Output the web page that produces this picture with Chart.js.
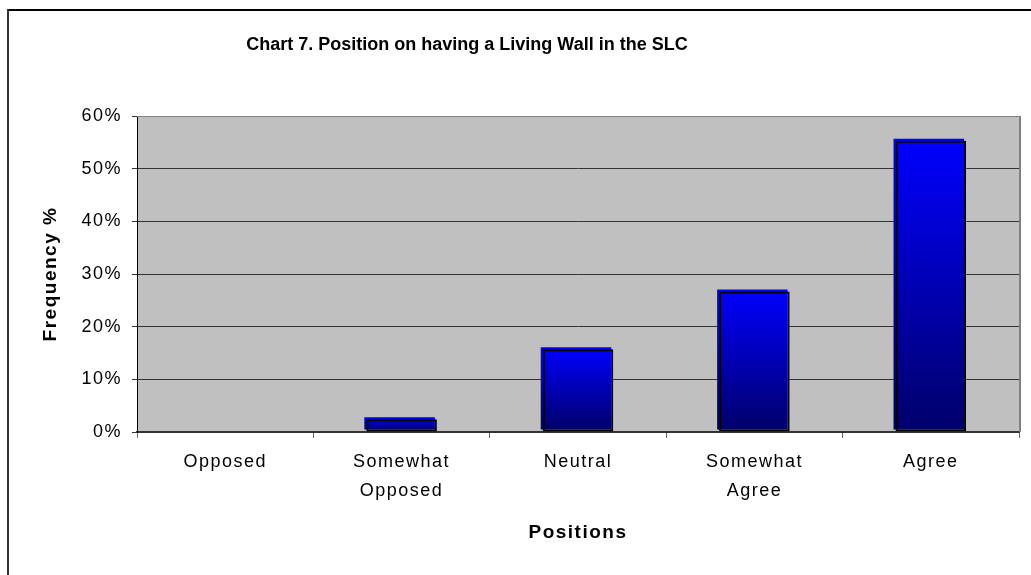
<!DOCTYPE html>
<html>
<head>
<meta charset="utf-8">
<script src="https://cdn.jsdelivr.net/npm/chart.js@4/dist/chart.umd.min.js"></script>
<style>
  html, body { margin: 0; padding: 0; background: #ffffff; }
  #c { display: block; width: 1031px; height: 575px; }
</style>
</head>
<body>
<canvas id="c" width="1031" height="575"></canvas>
<script>
// ---- data ----
const chartTitle = 'Chart 7. Position on having a Living Wall in the SLC';
const categories = [['Opposed'], ['Somewhat', 'Opposed'], ['Neutral'], ['Somewhat', 'Agree'], ['Agree']];
const frequencyPct = [0, 2.4, 15.7, 26.7, 55.3];
const yTicks = [0, 10, 20, 30, 40, 50, 60];
const xAxisTitle = 'Positions';
const yAxisTitle = 'Frequency %';

const FONT = "'Liberation Sans', Arial, sans-serif";

function barGradient(c) {
  const chart = c.chart;
  if (!chart.chartArea || !c.parsed) return '#0000ff';
  const ys = chart.scales.y;
  const top = ys.getPixelForValue(c.parsed.y);
  const bot = ys.getPixelForValue(0);
  if (bot - top < 1) return '#0000ff';
  const g = chart.ctx.createLinearGradient(0, top, 0, bot);
  g.addColorStop(0, '#0000ff');
  g.addColorStop(1, '#00006a');
  return g;
}

const decor = {
  id: 'decor',
  beforeDraw(chart) {
    const { ctx, chartArea: a } = chart;
    ctx.letterSpacing = '1.5px';
    ctx.save();
    ctx.fillStyle = '#c0c0c0';
    ctx.fillRect(a.left, a.top, a.right - a.left, a.bottom - a.top);
    ctx.restore();
  },
  beforeDatasetDraw(chart, args) {
    if (args.index === 0) {
      chart.ctx.save();
      chart.ctx.translate(-2, -2);
    }
  },
  afterDatasetDraw(chart, args) {
    if (args.index === 0) chart.ctx.restore();
  },
  afterDraw(chart) {
    const { ctx, chartArea: a } = chart;
    ctx.save();
    ctx.letterSpacing = '0px';
    // plot area top and right border
    ctx.strokeStyle = '#808080';
    ctx.lineWidth = 1;
    ctx.beginPath();
    ctx.moveTo(a.left, a.top + 0.5);
    ctx.lineTo(a.right, a.top + 0.5);
    ctx.stroke();
    ctx.lineWidth = 2;
    ctx.beginPath();
    ctx.moveTo(a.right + 1, a.top);
    ctx.lineTo(a.right + 1, a.bottom);
    ctx.stroke();
    // outer chart border
    ctx.strokeStyle = '#000000';
    ctx.lineWidth = 2;
    ctx.beginPath();
    ctx.moveTo(7, 10);
    ctx.lineTo(1031, 10);
    ctx.stroke();
    ctx.strokeStyle = '#333333';
    ctx.beginPath();
    ctx.moveTo(8, 9);
    ctx.lineTo(8, 575);
    ctx.stroke();
    // title
    ctx.fillStyle = '#000000';
    ctx.font = 'bold 18px ' + FONT;
    ctx.textAlign = 'center';
    ctx.textBaseline = 'middle';
    ctx.fillText(chartTitle, 467, 45);
    ctx.restore();
  }
};

new Chart(document.getElementById('c'), {
  type: 'bar',
  data: {
    labels: categories,
    datasets: [
      {
        label: 'fill',
        data: frequencyPct,
        backgroundColor: barGradient,
        borderWidth: 0,
        barPercentage: 0.4,
        categoryPercentage: 1.0,
        grouped: false,
        order: 1
      },
      {
        label: 'outline',
        data: frequencyPct,
        backgroundColor: 'rgba(0,0,0,0)',
        borderColor: '#000000',
        borderWidth: 2,
        borderSkipped: false,
        barPercentage: 0.4,
        categoryPercentage: 1.0,
        grouped: false,
        order: 0
      }
    ]
  },
  options: {
    responsive: false,
    animation: false,
    devicePixelRatio: 1,
    layout: { padding: { top: 116, right: 12, left: 0, bottom: 0 } },
    plugins: {
      legend: { display: false },
      tooltip: { enabled: false },
      title: { display: false }
    },
    scales: {
      x: {
        offset: true,
        afterFit(s) { s.height = 143; },
        grid: {
          display: true,
          offset: true,
          drawOnChartArea: false,
          drawTicks: true,
          tickLength: 6,
          color: '#666666'
        },
        border: { display: true, color: '#333333', width: 2 },
        ticks: {
          color: '#000000',
          font: { family: FONT, size: 18, lineHeight: 1.63 },
          padding: 9,
          maxRotation: 0,
          autoSkip: false
        },
        title: {
          display: true,
          text: xAxisTitle,
          color: '#000000',
          font: { family: FONT, size: 19, weight: 'bold', lineHeight: 1.2 },
          padding: { top: 0, bottom: 31 }
        }
      },
      y: {
        min: 0,
        max: 60,
        afterFit(s) { s.width = 137; },
        afterBuildTicks(s) { s.ticks = yTicks.map(v => ({ value: v })); },
        grid: {
          color: '#333333',
          lineWidth: 1,
          drawTicks: true,
          tickLength: 5
        },
        border: { display: true, color: '#000000', width: 1 },
        ticks: {
          color: '#000000',
          font: { family: FONT, size: 18 },
          padding: 10,
          callback: v => v + '%'
        },
        title: {
          display: true,
          text: yAxisTitle,
          color: '#000000',
          font: { family: FONT, size: 19, weight: 'bold', lineHeight: 1.2 },
          padding: { top: 39, bottom: 0 }
        }
      }
    }
  },
  plugins: [decor]
});
</script>
</body>
</html>
